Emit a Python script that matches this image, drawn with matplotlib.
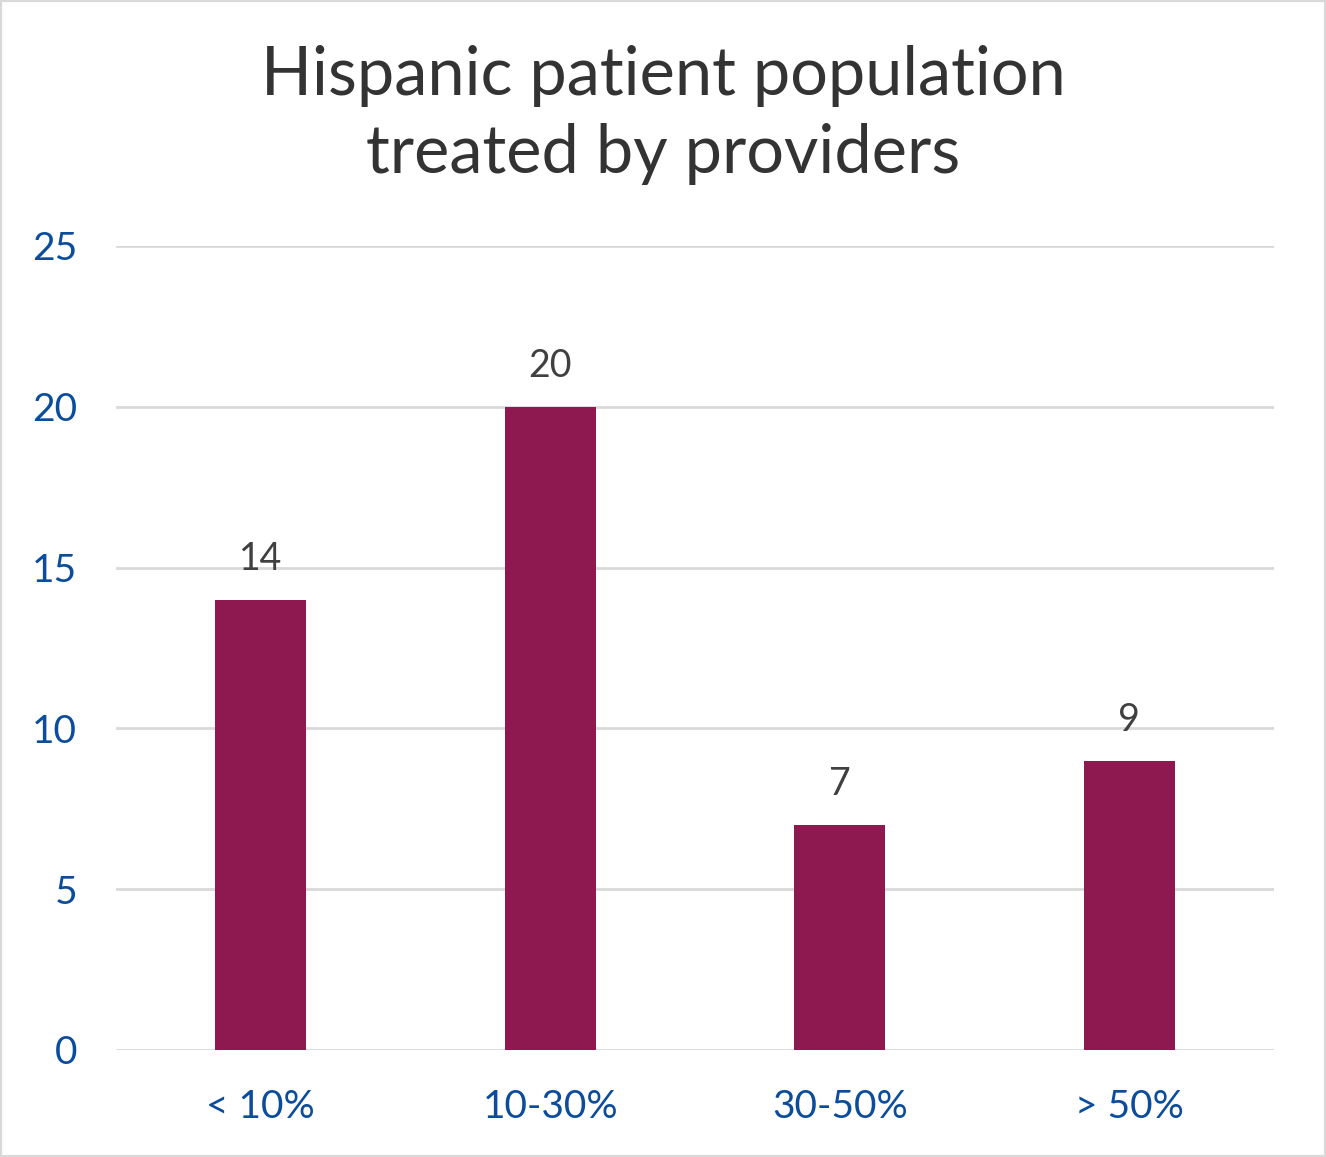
import matplotlib
matplotlib.use("Agg")
import numpy as np
from matplotlib import pyplot as plt
from matplotlib.patches import Rectangle

categories = ["< 10%", "10-30%", "30-50%", "> 50%"]
values = [14, 20, 7, 9]
y_ticks = [0, 5, 10, 15, 20, 25]

bar_color = "#8E1951"
tick_color = "#0B4C9C"

plt.rcParams['font.family'] = ['Lato', 'DejaVu Sans']

fig = plt.figure(figsize=(13.26, 11.57), dpi=100)
ax = fig.add_axes([0.0875, 0.0925, 0.8733, 0.6949])

x = np.arange(len(categories))
bars = ax.bar(x, values, width=0.314, color=bar_color, zorder=3)

for xi, v in zip(x, values):
    ax.text(xi, v + 0.7, str(v), ha="center", va="bottom",
            fontsize=27, color="#404040")

ax.set_xlim(-0.5, 3.5)
ax.set_ylim(0, 25)
ax.set_yticks(y_ticks)
ax.set_xticks(x)
ax.set_xticklabels(categories)
ax.tick_params(axis="both", length=0, labelsize=28, labelcolor=tick_color)
ax.tick_params(axis="y", pad=28)
ax.tick_params(axis="x", pad=28)
for lab in ax.get_yticklabels():
    lab.set_horizontalalignment("right")

ax.grid(axis="y", color="#D9D9D9", linewidth=2, zorder=0)
for s in ax.spines.values():
    s.set_visible(False)

fig.text(0.5, 0.901, "Hispanic patient population\ntreated by providers",
         ha="center", va="center", fontsize=48, color="#333333",
         fontweight="normal", linespacing=1.32)

fig.patches.append(Rectangle((0, 0), 1, 1, transform=fig.transFigure,
                             fill=False, edgecolor="#D9D9D9", linewidth=3))

fig.savefig("out.png", dpi=100)
